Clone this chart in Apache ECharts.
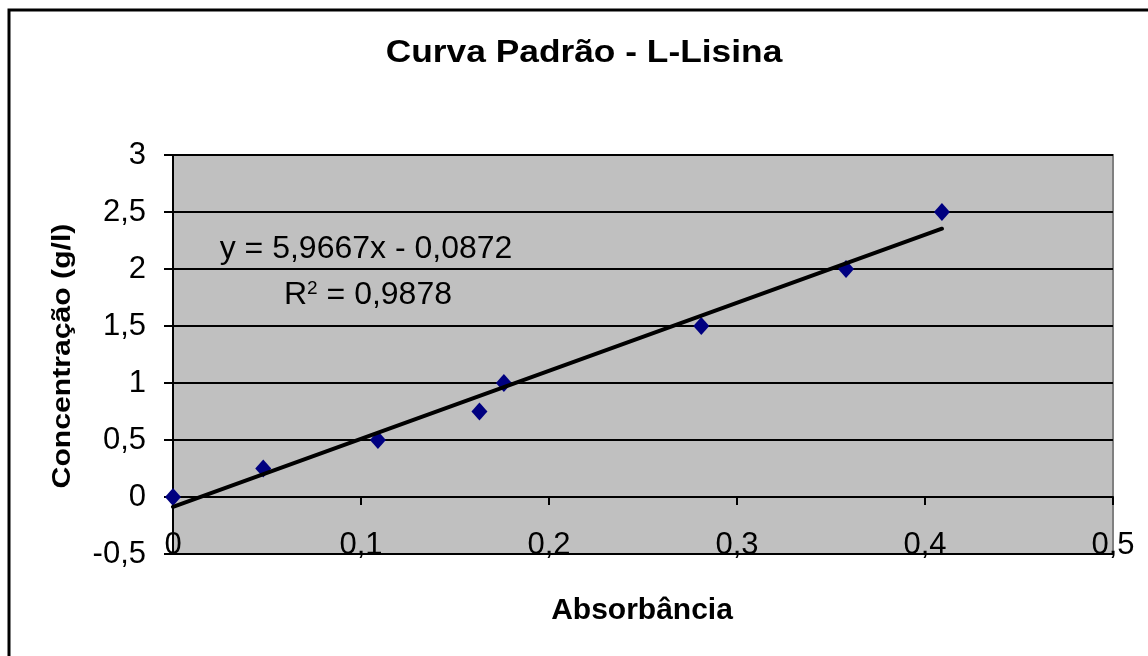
<!DOCTYPE html>
<html>
<head>
<meta charset="utf-8">
<script src="https://cdn.jsdelivr.net/npm/echarts@6.0.0/dist/echarts.min.js"></script>
<style>
html,body{margin:0;padding:0;background:#fff;}
#chart{width:1148px;height:656px;}
</style>
</head>
<body>
<div id="chart"></div>
<script>
// Data
const absorbancia = [0, 0.048, 0.109, 0.163, 0.176, 0.281, 0.358, 0.409];
const concentracao = [0, 0.25, 0.5, 0.75, 1, 1.5, 2, 2.5];
// Linear trendline shown on the chart
const trendSlope = 5.9667;
const trendIntercept = -0.0872;
const trendR2 = 0.9878;
// Axis settings / labels
const xAxisMin = 0, xAxisMax = 0.5, xAxisStep = 0.1;
const yAxisMin = -0.5, yAxisMax = 3, yAxisStep = 0.5;
const titleText = 'Curva Padrão - L-Lisina';
const xName = 'Absorbância';
const yName = 'Concentração (g/l)';

const comma = v => String(v).replace('.', ',');
const scatterData = absorbancia.map((x, i) => [x, concentracao[i]]);
const xMaxData = Math.max.apply(null, absorbancia);
const xMinData = Math.min.apply(null, absorbancia);
const trendData = [
  [xMinData, trendSlope * xMinData + trendIntercept],
  [xMaxData, trendSlope * xMaxData + trendIntercept]
];
const eqText = 'y = ' + comma(trendSlope) + 'x ' + (trendIntercept < 0 ? '- ' : '+ ') + comma(Math.abs(trendIntercept));
const r2Text = 'R{sup|2} = ' + comma(trendR2);

const FONT = '"Liberation Sans", Arial, sans-serif';
const chart = echarts.init(document.getElementById('chart'), null, {renderer: 'canvas'});
chart.setOption({
  backgroundColor: '#ffffff',
  animation: false,
  grid: {
    left: 173, right: 35, top: 155, bottom: 102,
    show: true, backgroundColor: '#c0c0c0', borderColor: '#808080', borderWidth: 2
  },
  xAxis: {
    type: 'value', min: xAxisMin, max: xAxisMax, interval: xAxisStep,
    axisLine: {show: true, onZero: true, lineStyle: {color: '#000', width: 2}},
    axisTick: {show: true, inside: false, length: 8, lineStyle: {color: '#000', width: 2}},
    axisLabel: {color: '#000', fontSize: 31, fontFamily: FONT, margin: -24, formatter: comma},
    splitLine: {show: false}
  },
  yAxis: {
    type: 'value', min: yAxisMin, max: yAxisMax, interval: yAxisStep,
    axisLine: {show: true, onZero: false, lineStyle: {color: '#000', width: 2}},
    axisTick: {show: true, inside: false, length: 9, lineStyle: {color: '#000', width: 2}},
    axisLabel: {color: '#000', fontSize: 31, fontFamily: FONT, margin: 27, formatter: comma},
    splitLine: {show: true, lineStyle: {color: '#000', width: 2}}
  },
  series: [
    {
      type: 'scatter', data: scatterData, symbol: 'diamond', symbolSize: [16, 18],
      itemStyle: {color: '#000080', opacity: 1}, z: 2
    },
    {
      type: 'line', data: trendData, showSymbol: false, symbol: 'none',
      lineStyle: {color: '#000', width: 4, cap: 'round'}, z: 3, silent: true
    }
  ],
  graphic: [
    {type: 'polyline', silent: true, z: 100,
     shape: {points: [[9, 900], [9, 10], [1400, 10]]},
     style: {fill: 'none', stroke: '#000', lineWidth: 3}},
    {type: 'text', x: 584, y: 53, scaleX: 1.14, z: 100,
     style: {text: titleText, fontSize: 31, fontWeight: 'bold', fontFamily: FONT, fill: '#000',
             align: 'center', verticalAlign: 'middle', textAlign: 'center', textVerticalAlign: 'middle'}},
    {type: 'text', x: 642, y: 611, z: 100,
     style: {text: xName, fontSize: 30, fontWeight: 'bold', fontFamily: FONT, fill: '#000',
             align: 'center', verticalAlign: 'middle', textAlign: 'center', textVerticalAlign: 'middle'}},
    {type: 'text', x: 63, y: 356, rotation: Math.PI / 2, scaleX: 1.16, z: 100,
     style: {text: yName, fontSize: 26, fontWeight: 'bold', fontFamily: FONT, fill: '#000',
             align: 'center', verticalAlign: 'middle', textAlign: 'center', textVerticalAlign: 'middle'}},
    {type: 'text', x: 366, y: 249, z: 100,
     style: {text: eqText, fontSize: 32, fontFamily: FONT, fill: '#000',
             align: 'center', verticalAlign: 'middle', textAlign: 'center', textVerticalAlign: 'middle'}},
    {type: 'text', x: 368, y: 295, z: 100,
     style: {text: r2Text, fontSize: 32, fontFamily: FONT, fill: '#000',
             align: 'center', verticalAlign: 'middle', textAlign: 'center', textVerticalAlign: 'middle',
             rich: {sup: {fontSize: 19, fontFamily: FONT, verticalAlign: 'top', lineHeight: 32}}}}
  ]
});
</script>
</body>
</html>
